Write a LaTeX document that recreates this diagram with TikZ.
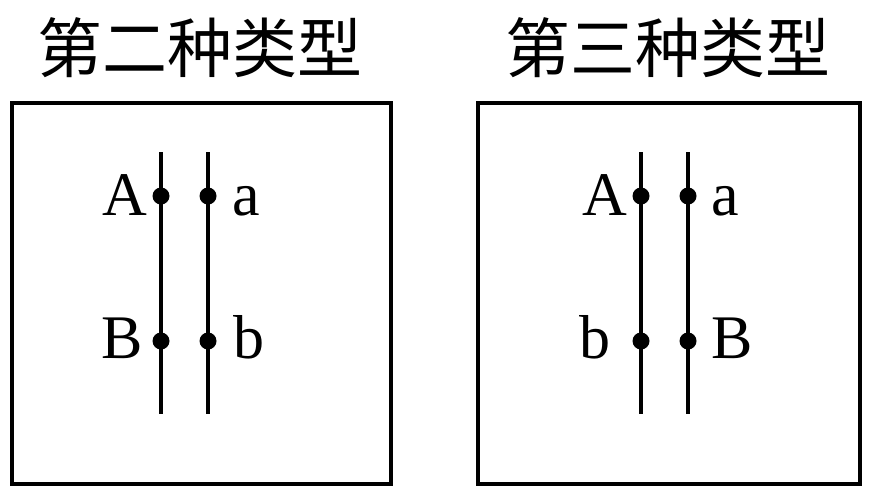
\documentclass[tikz,border=0pt]{standalone}
\usepackage{fontspec}
\setmainfont{Liberation Serif}
\newfontfamily\cjk{Noto Sans CJK SC}
\begin{document}
\begin{tikzpicture}[x=1pt,y=-1pt,
  frame/.style={draw,line width=4pt},
  rod/.style={line width=4pt},
  dot/.style={circle,fill,inner sep=0pt,minimum size=17pt},
  lab/.style={font=\fontsize{62}{66}\selectfont,inner sep=0pt},
  ttl/.style={font=\cjk\fontsize{65}{70}\selectfont,inner sep=0pt}]
\useasboundingbox (0,0) rectangle (877,493);
% titles
\node[ttl] (t1) at (200,48) {第二种类型};
\node[ttl] (t2) at (668,48) {第三种类型};
% boxes
\node[frame,minimum width=379pt,minimum height=381pt,inner sep=0pt] (b1) at (201.5,293.5) {};
\node[frame,minimum width=382pt,minimum height=381pt,inner sep=0pt] (b2) at (669,293.5) {};
% left box
\coordinate (l1t) at (161,152); \coordinate (l1b) at (161,414);
\coordinate (l2t) at (208,152); \coordinate (l2b) at (208,414);
\draw[rod] (l1t) -- (l1b);
\draw[rod] (l2t) -- (l2b);
\node[dot] (d1) at (161,196) {};
\node[dot] (d2) at (208,196) {};
\node[dot] (d3) at (161,341) {};
\node[dot] (d4) at (208,341) {};
\node[lab,anchor=base east] (A1) at (147,215) {A};
\node[lab,anchor=base west] (a1) at (232,215) {a};
\node[lab,anchor=base east] (B1) at (143,358) {B};
\node[lab,anchor=base west] (b1l) at (233,358) {b};
% right box
\coordinate (r1t) at (641,152); \coordinate (r1b) at (641,414);
\coordinate (r2t) at (688,152); \coordinate (r2b) at (688,414);
\draw[rod] (r1t) -- (r1b);
\draw[rod] (r2t) -- (r2b);
\node[dot] (e1) at (641,196) {};
\node[dot] (e2) at (688,196) {};
\node[dot] (e3) at (641,341) {};
\node[dot] (e4) at (688,341) {};
\node[lab,anchor=base east] (A2) at (627,215) {A};
\node[lab,anchor=base west] (a2) at (711,215) {a};
\node[lab,anchor=base east] (b2l) at (611,358) {b};
\node[lab,anchor=base west] (B2) at (711,358) {B};
\end{tikzpicture}
\end{document}
